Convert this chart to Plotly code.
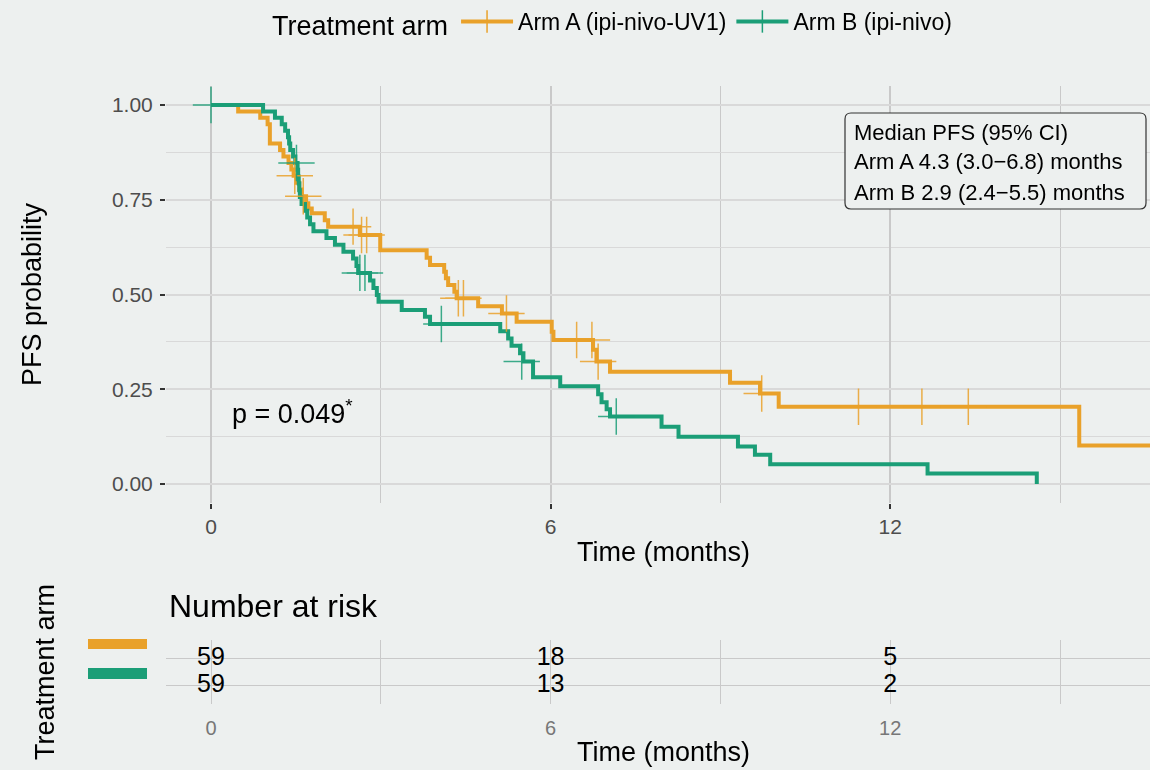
import plotly.graph_objects as go

# ---------------- data ----------------
ARM_A = "Arm A (ipi-nivo-UV1)"
ARM_B = "Arm B (ipi-nivo)"

# Kaplan-Meier step points (time in months, PFS probability after the step)
a_time = [0, 0.48, 0.87, 1.00, 1.04, 1.22, 1.28, 1.37, 1.42, 1.46, 1.51, 1.56, 1.60,
          1.68, 1.72, 1.78, 2.01, 2.07, 2.63, 2.99, 3.81, 3.87, 4.12, 4.15, 4.19,
          4.30, 4.34, 4.72, 5.14, 5.40, 6.02, 6.05, 6.75, 6.81, 7.05, 9.17, 9.70,
          10.03, 15.34, 16.9]
a_surv = [1.0, 0.983, 0.966, 0.949, 0.898, 0.881, 0.864, 0.847, 0.830, 0.813, 0.795,
          0.777, 0.759, 0.741, 0.727, 0.714, 0.696, 0.679, 0.657, 0.617, 0.597, 0.578,
          0.560, 0.543, 0.525, 0.507, 0.490, 0.469, 0.450, 0.428, 0.402, 0.380, 0.354,
          0.323, 0.296, 0.267, 0.239, 0.204, 0.102, 0.102]
a_cens_time = [1.48, 1.63, 2.51, 2.66, 2.75, 4.37, 4.46, 5.22, 6.46, 6.73, 6.84, 9.73,
               11.44, 12.56, 13.38]
a_cens_surv = [0.813, 0.759, 0.679, 0.657, 0.657, 0.490, 0.490, 0.450, 0.380, 0.380,
               0.323, 0.239, 0.204, 0.204, 0.204]

b_time = [0, 0.92, 1.13, 1.25, 1.31, 1.36, 1.38, 1.40, 1.45, 1.49, 1.53, 1.54, 1.55,
          1.56, 1.57, 1.60, 1.66, 1.70, 1.75, 1.81, 2.04, 2.19, 2.34, 2.51, 2.57, 2.60,
          2.81, 2.87, 2.93, 2.96, 3.37, 3.78, 3.87, 5.11, 5.25, 5.31, 5.46, 5.52, 5.69,
          6.17, 6.84, 6.90, 6.99, 7.05, 7.96, 8.26, 9.31, 9.61, 9.88, 12.66, 14.59]
b_surv = [1.0, 0.983, 0.966, 0.949, 0.932, 0.915, 0.898, 0.881, 0.864, 0.847, 0.829,
          0.811, 0.793, 0.775, 0.757, 0.739, 0.721, 0.703, 0.685, 0.667, 0.649, 0.631,
          0.613, 0.595, 0.575, 0.557, 0.537, 0.517, 0.499, 0.481, 0.459, 0.441, 0.422,
          0.403, 0.384, 0.365, 0.345, 0.323, 0.282, 0.258, 0.237, 0.216, 0.197, 0.178,
          0.151, 0.125, 0.099, 0.077, 0.052, 0.028, 0.0]
b_cens_time = [0.0, 1.51, 2.63, 2.72, 4.07, 5.49, 7.16]
b_cens_surv = [1.0, 0.847, 0.557, 0.557, 0.422, 0.323, 0.178]

# Number at risk table
risk_times = [0, 6, 12]
risk_a = [59, 18, 5]
risk_b = [59, 13, 2]

x_ticks = [0, 6, 12]
x_minor = [3, 9, 15]
y_ticks = [0.0, 0.25, 0.50, 0.75, 1.00]
y_ticklabels = ["0.00", "0.25", "0.50", "0.75", "1.00"]
y_minor = [0.125, 0.375, 0.625, 0.875]

median_lines = ["Median PFS (95% CI)",
                "Arm A 4.3 (3.0\u22126.8) months",
                "Arm B 2.9 (2.4\u22125.5) months"]
p_text = "p = 0.049<sup>*</sup>"

# ---------------- style ----------------
ORANGE = "#E9A12A"
GREEN = "#1B9E77"
BG = "#EDF0EF"
FONT = "Liberation Sans, Arial, Helvetica, sans-serif"
W, H = 1150, 770
ML = 166
PW = W - ML


def px(xp):
    return (xp - ML) / PW


def py(yp):
    return 1 - yp / H


fig = go.Figure()

# KM curves
fig.add_trace(go.Scatter(x=a_time, y=a_surv, mode="lines", name=ARM_A,
                         line=dict(shape="hv", color=ORANGE, width=4),
                         showlegend=False, hoverinfo="skip"))
fig.add_trace(go.Scatter(x=b_time, y=b_surv, mode="lines", name=ARM_B,
                         line=dict(shape="hv", color=GREEN, width=4),
                         showlegend=False, hoverinfo="skip"))
# censor marks
fig.add_trace(go.Scatter(x=a_cens_time, y=a_cens_surv, mode="markers", name=ARM_A,
                         marker=dict(symbol="cross-thin", size=26,
                                     line=dict(color=ORANGE, width=1.5)),
                         opacity=0.85, showlegend=False))
fig.add_trace(go.Scatter(x=b_cens_time, y=b_cens_surv, mode="markers", name=ARM_B,
                         marker=dict(symbol="cross-thin", size=26,
                                     line=dict(color=GREEN, width=1.5)),
                         opacity=0.85, showlegend=False))
# legend entries
for nm, col in [(ARM_A, ORANGE), (ARM_B, GREEN)]:
    fig.add_trace(go.Scatter(x=[None], y=[None], mode="lines+markers", name=nm,
                             line=dict(color=col, width=4),
                             marker=dict(symbol="line-ns", size=16,
                                         line=dict(color=col, width=1.5))))

# risk table
fig.add_trace(go.Scatter(x=risk_times, y=[ARM_A] * len(risk_times), mode="text",
                         text=[str(v) for v in risk_a], xaxis="x2", yaxis="y2",
                         textfont=dict(size=25, color="black", family=FONT),
                         showlegend=False))
fig.add_trace(go.Scatter(x=risk_times, y=[ARM_B] * len(risk_times), mode="text",
                         text=[str(v) for v in risk_b], xaxis="x2", yaxis="y2",
                         textfont=dict(size=25, color="black", family=FONT),
                         showlegend=False))

XR = [(ML - 211) / 56.6, (W - 211) / 56.6]
grid_x = "#C9C9C9"
grid_y = "#D9D9D9"

fig.update_layout(
    width=W, height=H,
    margin=dict(l=ML, r=0, t=0, b=0),
    paper_bgcolor=BG, plot_bgcolor=BG,
    font=dict(family=FONT, color="black"),
    xaxis=dict(domain=[0, 1], range=XR, anchor="y", tickmode="array", tickvals=x_ticks,
               showgrid=True, gridcolor=grid_x, gridwidth=1.5, zeroline=False,
               ticks="outside", ticklen=5, tickwidth=1.5, tickcolor="#333333",
               tickfont=dict(size=21, color="#4D4D4D"),
               minor=dict(tickmode="array", tickvals=x_minor, showgrid=True,
                          gridcolor=grid_x, gridwidth=1.2, ticks="")),
    yaxis=dict(domain=[py(503), py(86)], range=[-0.05, 1.05], anchor="x",
               tickmode="array", tickvals=y_ticks, ticktext=y_ticklabels,
               showgrid=True, gridcolor=grid_y, gridwidth=1.5, zeroline=False,
               ticks="outside", ticklen=5, tickwidth=1.5, tickcolor="#333333",
               tickfont=dict(size=21, color="#4D4D4D"), ticklabelstandoff=3,
               minor=dict(tickmode="array", tickvals=y_minor, showgrid=True,
                          gridcolor=grid_y, gridwidth=1.2, ticks="")),
    xaxis2=dict(domain=[0, 1], range=XR, anchor="y2", tickmode="array", tickvals=x_ticks,
                showgrid=True, gridcolor=grid_x, gridwidth=1.2, zeroline=False,
                ticks="", tickfont=dict(size=20, color="#777777"),
                ticklabelstandoff=10,
                minor=dict(tickmode="array", tickvals=x_minor, showgrid=True,
                           gridcolor=grid_x, gridwidth=1.2, ticks="")),
    yaxis2=dict(domain=[py(704), py(640)], anchor="x2", type="category",
                categoryorder="array", categoryarray=[ARM_B, ARM_A], range=[-0.7, 1.7],
                showticklabels=False, showgrid=True, gridcolor=grid_x, gridwidth=1.2,
                zeroline=False, ticks=""),
    legend=dict(orientation="h", x=px(270), xanchor="left", y=py(0), yanchor="top",
                title=dict(text="Treatment arm", font=dict(size=27), side="left"),
                font=dict(size=23), bgcolor="rgba(0,0,0,0)", itemwidth=52),
)

annotations = [
    dict(text="PFS probability", x=px(32), y=py(294), textangle=-90, font=dict(size=27)),
    dict(text="Time (months)", x=px(663), y=py(552), font=dict(size=27)),
    dict(text="Number at risk", x=px(167), y=py(606), xanchor="left", font=dict(size=32)),
    dict(text="Treatment arm", x=px(45), y=py(672), textangle=-90, font=dict(size=27)),
    dict(text="Time (months)", x=px(663), y=py(752), font=dict(size=27)),
    dict(text=p_text, x=px(230), y=py(412), xanchor="left", font=dict(size=27)),
]
for i, (line, yc) in enumerate(zip(median_lines, [132, 162, 193])):
    annotations.append(dict(text=line, x=px(852), y=py(yc), xanchor="left",
                            font=dict(size=22)))
for a in annotations:
    a.setdefault("xref", "paper")
    a.setdefault("yref", "paper")
    a.setdefault("showarrow", False)
    a.setdefault("xanchor", "center")
    a.setdefault("yanchor", "middle")
fig.update_layout(annotations=annotations)

# rounded box around median PFS text
x0, x1, y0, y1 = px(845), px(1146), py(209), py(113)
rx, ry = 6 / PW, 6 / H
path = (f"M{x0+rx},{y1} L{x1-rx},{y1} Q{x1},{y1} {x1},{y1-ry} L{x1},{y0+ry} "
        f"Q{x1},{y0} {x1-rx},{y0} L{x0+rx},{y0} Q{x0},{y0} {x0},{y0+ry} "
        f"L{x0},{y1-ry} Q{x0},{y1} {x0+rx},{y1} Z")
shapes = [dict(type="path", path=path, xref="paper", yref="paper",
               line=dict(color="#333333", width=1.2), fillcolor=BG)]
# coloured keys for the risk table rows
shapes.append(dict(type="rect", xref="paper", yref="paper", x0=px(88), x1=px(147),
                   y0=py(649), y1=py(639), fillcolor=ORANGE, line=dict(width=0)))
shapes.append(dict(type="rect", xref="paper", yref="paper", x0=px(88), x1=px(147),
                   y0=py(679), y1=py(668), fillcolor=GREEN, line=dict(width=0)))
fig.update_layout(shapes=shapes)

fig.write_html("out.html",
               config={"displayModeBar": False},
               post_script="document.body.style.margin='0';"
                           "document.body.style.overflow='hidden';")
